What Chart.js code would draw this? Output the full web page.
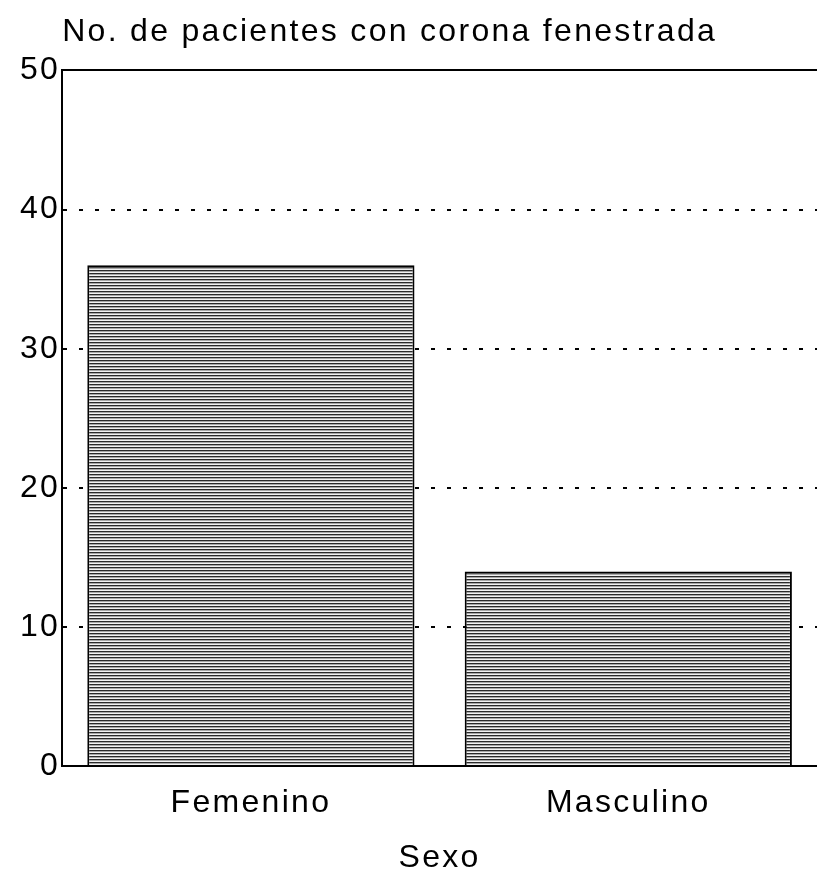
<!DOCTYPE html>
<html lang="es">
<head>
<meta charset="UTF-8">
<title>Corona fenestrada</title>
<script src="https://cdn.jsdelivr.net/npm/chart.js@4.4.1/dist/chart.umd.min.js"></script>
<style>
    body { margin: 0; background: #fff; }
    .chart-container { position: relative; width: 817px; height: 877px; }
</style>
</head>
<body>
<div class="chart-container">
    <canvas id="chart"></canvas>
</div>
<script>
// datos
var categories = ['Femenino', 'Masculino'];
var patients = [36, 14];
var yTicks = [0, 10, 20, 30, 40, 50];

var FONT = "'Liberation Sans', Arial, sans-serif";

// trama de lineas horizontales para las barras
function hatch() {
    var c = document.createElement('canvas');
    c.width = 4; c.height = 3;
    var g = c.getContext('2d');
    g.fillStyle = '#f2f2f2'; g.fillRect(0, 0, 4, 3);
    g.fillStyle = '#2a2a2a'; g.fillRect(0, 0, 4, 1);
    g.fillStyle = '#a8a8a8'; g.fillRect(0, 1, 4, 1);
    return g.createPattern(c, 'repeat');
}

// el texto del original esta algo espaciado
var spacing = {
    id: 'spacing',
    beforeUpdate(chart) { chart.ctx.letterSpacing = '2.3px'; },
    beforeDraw(chart) { chart.ctx.letterSpacing = '2.3px'; }
};

var ctx = document.getElementById('chart').getContext('2d');

var chart = new Chart(ctx, {
    type: 'bar',
    data: {
        labels: categories,
        datasets: [{
            data: patients,
            backgroundColor: hatch(),
            borderColor: '#000',
            borderWidth: 2,
            borderSkipped: 'bottom',
            categoryPercentage: 1,
            barPercentage: 0.867
        }]
    },
    options: {
        responsive: true,
        maintainAspectRatio: false,
        animation: false,
        layout: { padding: { left: 18, right: 0, top: 0, bottom: 0 } },
        plugins: {
            legend: { display: false },
            tooltip: { enabled: false },
            title: {
                display: true,
                text: 'No. de pacientes con corona fenestrada',
                align: 'start',
                fullSize: false,
                color: '#000',
                font: { family: FONT, size: 32, weight: 'normal' },
                padding: { top: 13, bottom: 19 }
            }
        },
        scales: {
            x: {
                grid: { display: false },
                border: { display: true, color: '#000', width: 2 },
                ticks: {
                    color: '#000',
                    padding: 10,
                    font: { family: FONT, size: 32 }
                },
                title: {
                    display: true,
                    text: 'Sexo',
                    color: '#000',
                    font: { family: FONT, size: 32 },
                    padding: { top: 6, bottom: 0 }
                }
            },
            y: {
                min: 0,
                max: 50,
                afterBuildTicks: function (axis) {
                    axis.ticks = yTicks.map(function (v) { return { value: v }; });
                },
                grid: {
                    drawTicks: false,
                    color: function (c) {
                        return c.tick && c.tick.value === 0 ? 'rgba(0,0,0,0)' : '#000';
                    },
                    lineWidth: 2
                },
                border: {
                    display: true,
                    color: '#000',
                    width: 2,
                    dash: function (c) {
                        return c.tick && c.tick.value === 50 ? [] : [4, 12];
                    }
                },
                ticks: {
                    color: '#000',
                    padding: 2,
                    font: { family: FONT, size: 32 }
                }
            }
        }
    },
    plugins: [spacing]
});
</script>
</body>
</html>
